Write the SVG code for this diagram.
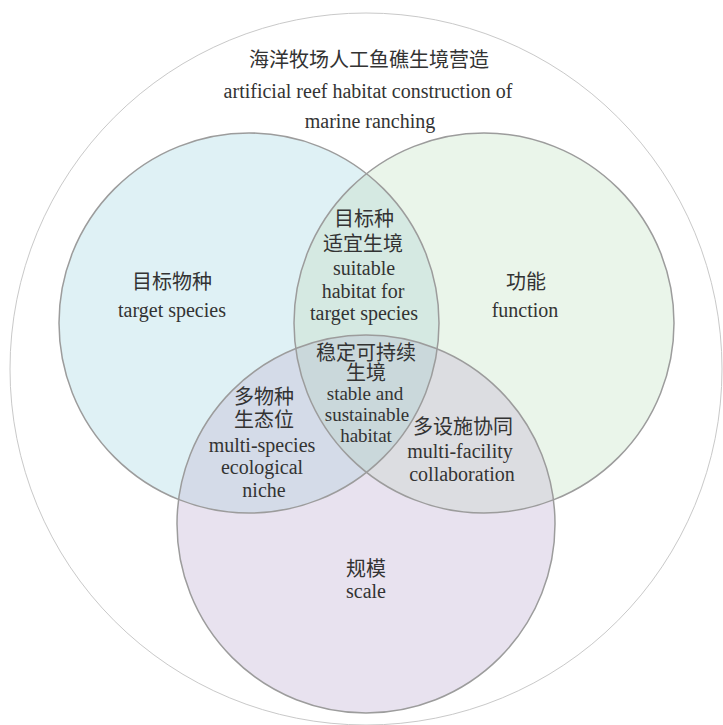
<svg xmlns="http://www.w3.org/2000/svg" width="723" height="725" viewBox="0 0 723 725">
<style>
text{font-family:"Liberation Serif","Noto Sans CJK SC",serif;font-size:20px;fill:#333;text-anchor:middle}
.sm{font-size:19px}
.ring{fill:none;stroke:#9c9c9c;stroke-width:1.5}
</style>
<defs>
<clipPath id="cL"><circle cx="249" cy="323" r="190"/></clipPath>
<clipPath id="cR"><circle cx="484" cy="323" r="190"/></clipPath>
<clipPath id="cB"><circle cx="366" cy="524" r="189"/></clipPath>
</defs>
<rect width="723" height="725" fill="#fff"/>
<g id="outer">
<circle cx="366" cy="369" r="356" fill="none" stroke="#c9c9c9" stroke-width="1"/>
<text x="369" y="67">海洋牧场人工鱼礁生境营造</text>
<text x="368" y="98">artificial reef habitat construction of</text>
<text x="370" y="128">marine ranching</text>
</g>
<g id="fills">
<circle cx="249" cy="323" r="190" fill="#dff1f5"/>
<circle cx="484" cy="323" r="190" fill="#eaf5ea"/>
<circle cx="366" cy="524" r="189" fill="#e8e2ef"/>
<circle cx="484" cy="323" r="190" fill="#d5e9e2" clip-path="url(#cL)"/>
<circle cx="366" cy="524" r="189" fill="#d4dbe8" clip-path="url(#cL)"/>
<circle cx="366" cy="524" r="189" fill="#dcdde1" clip-path="url(#cR)"/>
<g clip-path="url(#cL)"><circle cx="366" cy="524" r="189" fill="#cad8db" clip-path="url(#cR)"/></g>
</g>
<g id="target-species">
<circle class="ring" cx="249" cy="323" r="190"/>
<text x="172" y="289">目标物种</text>
<text x="172" y="317">target species</text>
</g>
<g id="function">
<circle class="ring" cx="484" cy="323" r="190"/>
<text x="526" y="289">功能</text>
<text x="525" y="317">function</text>
</g>
<g id="scale">
<circle class="ring" cx="366" cy="524" r="189"/>
<text x="366" y="576">规模</text>
<text x="366" y="598">scale</text>
</g>
<g id="suitable-habitat">
<text x="364" y="226">目标种</text>
<text x="363" y="251">适宜生境</text>
<text x="364" y="275">suitable</text>
<text x="363" y="298">habitat for</text>
<text x="364" y="320">target species</text>
</g>
<g id="stable-habitat">
<text x="366" y="360">稳定可持续</text>
<text x="366" y="380">生境</text>
<text class="sm" x="365" y="400">stable and</text>
<text class="sm" x="367" y="421">sustainable</text>
<text class="sm" x="366" y="442">habitat</text>
</g>
<g id="niche">
<text x="264" y="404">多物种</text>
<text x="264" y="427">生态位</text>
<text x="262" y="452">multi-species</text>
<text x="262" y="474">ecological</text>
<text x="264" y="497">niche</text>
</g>
<g id="collaboration">
<text x="463" y="434">多设施协同</text>
<text x="460" y="458">multi-facility</text>
<text x="462" y="481">collaboration</text>
</g>
</svg>
